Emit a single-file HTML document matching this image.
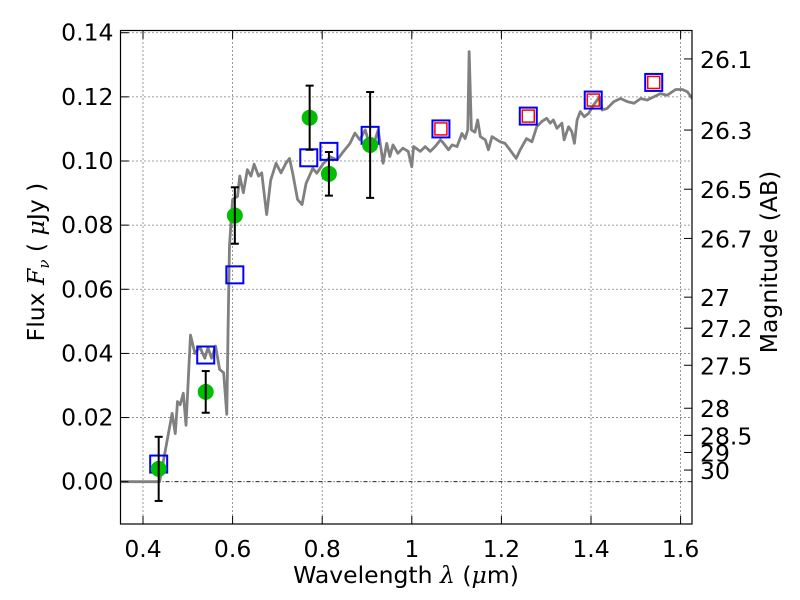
<!DOCTYPE html>
<html><head><meta charset="utf-8"><style>
html,body{margin:0;padding:0;background:#fff;}
svg{display:block;font-family:"DejaVu Sans","Liberation Sans",sans-serif;}
</style></head><body>
<svg id="chart" width="800" height="600" viewBox="0 0 800 600"></svg>
<script>
const xTicks=[0.4,0.6,0.8,1.0,1.2,1.4,1.6];
const xTickLabels=["0.4","0.6","0.8","1","1.2","1.4","1.6"];
const yTicks=[0,0.02,0.04,0.06,0.08,0.10,0.12,0.14];
const yTickLabels=["0.00","0.02","0.04","0.06","0.08","0.10","0.12","0.14"];
const magTicks=[26.1,26.3,26.5,26.7,27,27.2,27.5,28,28.5,29,30];
const magTickLabels=["26.1","26.3","26.5","26.7","27","27.2","27.5","28","28.5","29","30"];
const specLam=[0.35,0.437,0.450,0.465,0.472,0.477,0.483,0.490,0.496,0.506,0.516,0.527,0.538,0.545,0.553,0.562,0.571,0.580,0.587,0.590,0.593,0.600,0.611,0.616,0.624,0.633,0.641,0.648,0.658,0.665,0.676,0.685,0.697,0.708,0.719,0.727,0.734,0.745,0.755,0.764,0.779,0.788,0.803,0.818,0.833,0.847,0.862,0.873,0.884,0.896,0.907,0.918,0.925,0.936,0.944,0.951,0.958,0.969,0.980,0.992,1.000,1.004,1.019,1.030,1.041,1.052,1.064,1.071,1.082,1.090,1.101,1.112,1.119,1.125,1.128,1.133,1.141,1.147,1.153,1.164,1.171,1.179,1.186,1.197,1.208,1.219,1.233,1.242,1.256,1.268,1.279,1.290,1.301,1.309,1.316,1.324,1.335,1.340,1.350,1.357,1.363,1.369,1.376,1.385,1.395,1.406,1.419,1.425,1.436,1.451,1.466,1.481,1.496,1.511,1.525,1.540,1.555,1.570,1.589,1.604,1.615,1.626];
const specFlux=[0,0,0.0099,0.0213,0.015,0.025,0.024,0.0276,0.0176,0.0457,0.040,0.042,0.0385,0.0418,0.0385,0.0423,0.035,0.034,0.021,0.0485,0.0735,0.088,0.089,0.0953,0.0901,0.0973,0.0953,0.099,0.0953,0.0963,0.0833,0.094,0.0993,0.0963,0.0993,0.1008,0.0963,0.088,0.0864,0.093,0.0977,0.0962,0.0993,0.1013,0.1003,0.1029,0.1055,0.1087,0.1066,0.1097,0.1045,0.1066,0.1097,0.0993,0.1055,0.1014,0.105,0.1024,0.104,0.103,0.0982,0.1045,0.103,0.1045,0.103,0.1045,0.1066,0.1055,0.1035,0.105,0.1045,0.1086,0.107,0.1097,0.1341,0.1097,0.109,0.1128,0.1076,0.1066,0.1035,0.1076,0.107,0.106,0.1055,0.1035,0.1008,0.1035,0.107,0.106,0.1107,0.1123,0.1133,0.1118,0.1128,0.1102,0.1118,0.1066,0.1107,0.1092,0.1055,0.1128,0.1154,0.1138,0.1149,0.1175,0.120,0.1159,0.1164,0.1185,0.1195,0.1185,0.118,0.1195,0.119,0.120,0.121,0.1205,0.1223,0.1223,0.1216,0.1195];
const obsLam=[0.435,0.54,0.605,0.772,0.815,0.907];
const obsFlux=[0.004,0.028,0.083,0.1135,0.096,0.105];
const obsErr=[0.010,0.0065,0.0088,0.010,0.0068,0.0165];
const modelLam=[0.435,0.54,0.605,0.77,0.815,0.907,1.065,1.26,1.405,1.54];
const modelFlux=[0.0055,0.0395,0.0645,0.101,0.103,0.108,0.110,0.114,0.119,0.1245];
const nirLam=[1.065,1.26,1.405,1.54];
const nirFlux=[0.110,0.114,0.119,0.1245];

const L=120.5,R=692,T=30.5,B=524;
const X=v=>143+(v-0.4)*448;
const Y=v=>481.7-v*3207;
const M=m=>Y(Math.pow(10,(23.9-m)/2.5));
const NS="http://www.w3.org/2000/svg";
const svg=document.getElementById('chart');
function mk(tag,attrs,parent){const e=document.createElementNS(NS,tag);for(const k in attrs)e.setAttribute(k,attrs[k]);(parent||svg).appendChild(e);return e;}

const defs=mk('defs',{});const cp=mk('clipPath',{id:'clip'},defs);mk('rect',{x:L,y:T,width:R-L,height:B-T},cp);

const grid=mk('g',{});


xTicks.forEach(v=>{mk('line',{x1:X(v),x2:X(v),y1:T,y2:B,stroke:'#000','stroke-width':0.8,'stroke-dasharray':'1,3'},grid);});
yTicks.forEach(v=>{const dash=v===0?'4,2,1,2':'1,3';mk('line',{x1:L,x2:R,y1:Y(v),y2:Y(v),stroke:'#000','stroke-width':0.8,'stroke-dasharray':dash},grid);});

const plot=mk('g',{'clip-path':'url(#clip)'});
const sp=mk('polyline',{points:specLam.map((l,i)=>X(l)+','+Y(specFlux[i])).join(' '),fill:'none',stroke:'#808080','stroke-width':2.8,'stroke-linejoin':'round'},plot);



modelLam.forEach((l,i)=>{
  const r=mk('rect',{x:X(l)-8.5,y:Y(modelFlux[i])-8.5,width:17,height:17,fill:'none',stroke:'#0000ff','stroke-width':2},plot);
  
  
});
nirLam.forEach((l,i)=>{
  const r=mk('rect',{x:X(l)-6,y:Y(nirFlux[i])-6,width:12,height:12,fill:'none',stroke:'#ff0000','stroke-width':1.5},plot);
  
  
});
obsLam.forEach((l,i)=>{
  const g=mk('g',{},plot);
  
  
  mk('circle',{cx:X(l),cy:Y(obsFlux[i]),r:8,fill:'#00bf00'},g);
  const x=X(l),y1=Y(obsFlux[i]+obsErr[i]),y2=Y(obsFlux[i]-obsErr[i]);
  mk('line',{x1:x,x2:x,y1:y1,y2:y2,stroke:'#000','stroke-width':2},g);
  mk('line',{x1:x-4,x2:x+4,y1:y1,y2:y1,stroke:'#000','stroke-width':2},g);
  mk('line',{x1:x-4,x2:x+4,y1:y2,y2:y2,stroke:'#000','stroke-width':2},g);
});

const ax=mk('g',{});


mk('rect',{x:L,y:T,width:R-L,height:B-T,fill:'none',stroke:'#000','stroke-width':1.2},ax);
xTicks.forEach((v,i)=>{
  mk('line',{x1:X(v),x2:X(v),y1:B,y2:B-8,stroke:'#000'},ax);
  mk('line',{x1:X(v),x2:X(v),y1:T,y2:T+8,stroke:'#000'},ax);
  const t=mk('text',{x:X(v),y:B+33,'font-size':23.5,'text-anchor':'middle'},ax);t.textContent=xTickLabels[i];
  
  
});
yTicks.forEach((v,i)=>{
  mk('line',{x1:L,x2:L+8,y1:Y(v),y2:Y(v),stroke:'#000'},ax);
  const t=mk('text',{x:L-7,y:Y(v)+8,'font-size':23.5,'text-anchor':'end'},ax);t.textContent=yTickLabels[i];
  
  
});
magTicks.forEach((m,i)=>{
  mk('line',{x1:R,x2:R-8,y1:M(m),y2:M(m),stroke:'#000'},ax);
  const t=mk('text',{x:R+8,y:M(m)+9,'font-size':23.5},ax);t.textContent=magTickLabels[i];
  
  
});

const xt=mk('text',{x:406,y:583,'font-size':23.5,'text-anchor':'middle'});
xt.setAttribute('xml:space','preserve');


xt.innerHTML='Wavelength  <tspan font-style="italic" font-family="DejaVu Serif, serif">λ</tspan> (<tspan font-style="italic" font-family="DejaVu Serif, serif">μ</tspan>m)';
const yt=mk('text',{transform:'translate(44,262) rotate(-90)','font-size':23.5,'text-anchor':'middle'});
yt.setAttribute('xml:space','preserve');


yt.innerHTML='Flux  <tspan font-style="italic" font-family="DejaVu Serif, serif">F<tspan font-size="15" dy="5">ν</tspan></tspan><tspan dy="-5">  ( </tspan><tspan font-style="italic" font-family="DejaVu Serif, serif">μ</tspan>Jy )';
const rt=mk('text',{transform:'translate(777,262) rotate(-90)','font-size':23.5,'text-anchor':'middle'});


rt.textContent='Magnitude (AB)';
</script>
</body></html>
